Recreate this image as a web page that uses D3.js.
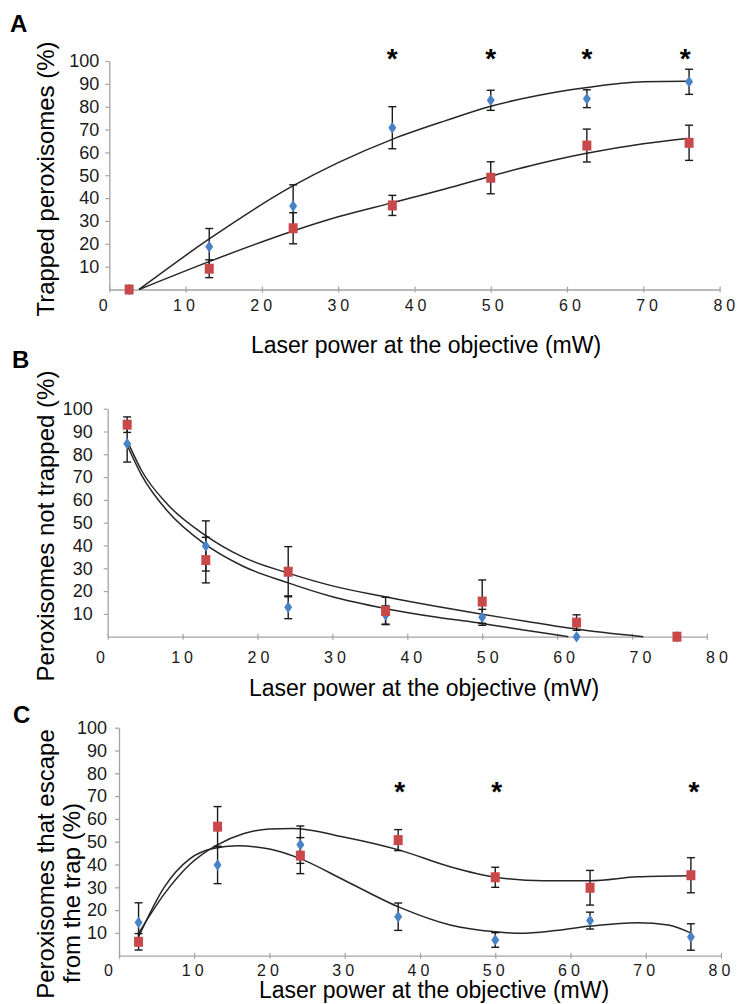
<!DOCTYPE html>
<html>
<head>
<meta charset="utf-8">
<script src="https://cdn.jsdelivr.net/npm/d3@7/dist/d3.min.js"></script>
<style>
  body { margin: 0; background: #fff; }
  svg { display: block; font-family: "Liberation Sans", Arial, sans-serif; }
</style>
</head>
<body>
<script>
// Laser power levels (mW), shared by the three panels
var power = [2.6, 13.1, 24.1, 37.1, 50, 62.6, 76];

// Tick values
var xTicks = [0, 10, 20, 30, 40, 50, 60, 70, 80];
var yTicks = [10, 20, 30, 40, 50, 60, 70, 80, 90, 100];

// Panel A: trapped peroxisomes (%)
var trappedBlue = [0, 18.7, 36.5, 70.8, 82.8, 83.5, 90.9];
var trappedBlueErr = [0, 8, 9.3, 9.2, 4.4, 3.9, 5.5];
var trappedRed = [0, 9.1, 26.8, 36.8, 48.9, 63, 64.2];
var trappedRedErr = [0, 3.9, 6.8, 4.4, 7, 7.2, 7.7];
var trappedStars = [37.1, 50, 62.6, 75.5];
// trend lines [power, %]
var trappedBlueTrend = [[3.9, 0], [13, 21.9], [24, 45.2], [30, 55.5], [37, 65.6], [44, 73.8], [50, 80.2], [56, 84.8], [62.4, 88.3], [70, 90.9], [75.7, 91.1]];
var trappedRedTrend = [[3.9, 0], [13, 12.1], [24, 25.5], [30, 31.8], [37, 37.9], [44, 44], [50, 49.6], [56, 54.8], [62.4, 59.5], [70, 63.8], [75.7, 66.1]];

// Panel B: peroxisomes not trapped (%)
var notTrappedBlue = [84.6, 39.8, 12.9, 9.5, 8.5, 0, 0];
var notTrappedBlueErr = [8, 11, 5, 4, 3.5, 0, 0];
var notTrappedRed = [93, 33.6, 28.5, 11.3, 15.4, 6.2, 0];
var notTrappedRedErr = [3.4, 10, 11, 6, 9.5, 3.4, 0];
var notTrappedBlueTrend = [[2.6, 84], [4.5, 71], [8, 55], [12.8, 41], [18, 31], [24, 23.7], [30, 17.5], [37, 12.4], [44, 8.5], [50, 5.8], [56, 2.7], [61.5, 0]];
var notTrappedRedTrend = [[2.6, 86], [4.5, 73], [8, 58], [12.8, 45], [18, 35], [24, 28], [30, 22.3], [37, 17.5], [44, 13.2], [50, 9.8], [56, 6.7], [61.3, 3.9], [66, 1.9], [71.5, 0]];

// Panel C: peroxisomes that escape from the trap (%)
var escapeBlue = [14.6, 39.8, 48.7, 17.1, 6.9, 15.4, 8.2];
var escapeBlueErr = [8.6, 8.2, 8.2, 6, 3.2, 3.7, 5.8];
var escapeRed = [6.1, 56.6, 43.9, 50.7, 34.4, 29.8, 35.3];
var escapeRedErr = [3.6, 8.8, 7.9, 4.6, 4.4, 7.6, 7.7];
var escapeStars = [37.3, 50.2, 76.4];
var escapeBlueTrend = [[2.6, 8.3], [6, 30], [9.4, 42.5], [12.5, 47], [15.7, 48.2], [20, 46.8], [24, 42.7], [30, 33], [37.3, 21.2], [44, 13.5], [50, 10.5], [53.3, 9.8], [58, 11], [62.7, 13], [68.9, 14.5], [73, 13.5], [76.1, 9.8]];
var escapeRedTrend = [[2.6, 9.8], [6, 27], [9.4, 40], [13, 48.5], [16.5, 53.5], [20, 55.6], [23, 55.8], [30, 52], [37.3, 46.3], [44, 39], [50, 34.4], [56.4, 32.9], [62.7, 32.9], [68.9, 34.6], [76.1, 35.1]];

// Colours
var blue = "#4a82c6";
var red = "#c9494b";
var axisGrey = "#a3a3a3";

var svg = d3.select("body").append("svg")
    .attr("width", 741)
    .attr("height", 1004);

svg.append("rect")
    .attr("width", 741)
    .attr("height", 1004)
    .attr("fill", "#fff");

// Panel layouts (pixel positions)
var panels = [
  {
    letter: "A", letterX: 10, letterY: 32,
    xRange: [109.3, 719.6], yRange: [289.5, 61],
    yPad: 6, xLabelY: 21.5, zeroShift: -6.5, shiftA: -3, shiftB: 0.09,
    blue: trappedBlue, blueErr: trappedBlueErr, red: trappedRed, redErr: trappedRedErr,
    blueTrend: trappedBlueTrend, redTrend: trappedRedTrend,
    stars: trappedStars, starY: 103.5,
    yTitle: ["Trapped peroxisomes (%)"], yTitleX: [54], yTitleY: [179],
    xTitleX: 426, xTitleY: 353
  },
  {
    letter: "B", letterX: 12, letterY: 368,
    xRange: [107.7, 706.9], yRange: [636.7, 408.7],
    yPad: 11, xLabelY: 26, zeroShift: -7.7, shiftA: -2.5, shiftB: 0.15,
    blue: notTrappedBlue, blueErr: notTrappedBlueErr, red: notTrappedRed, redErr: notTrappedRedErr,
    blueTrend: notTrappedBlueTrend, redTrend: notTrappedRedTrend,
    stars: [], starY: 0,
    yTitle: ["Peroxisomes not trapped (%)"], yTitleX: [54], yTitleY: [526],
    xTitleX: 424, xTitleY: 696
  },
  {
    letter: "C", letterX: 13, letterY: 723,
    xRange: [119, 721], yRange: [955.7, 727.7],
    yPad: 8, xLabelY: 20, zeroShift: -11, shiftA: -2, shiftB: 0,
    blue: escapeBlue, blueErr: escapeBlueErr, red: escapeRed, redErr: escapeRedErr,
    blueTrend: escapeBlueTrend, redTrend: escapeRedTrend,
    stars: escapeStars, starY: 74.4,
    yTitle: ["Peroxisomes that escape", "from the trap (%)"], yTitleX: [54, 80], yTitleY: [864, 893],
    xTitleX: 434, xTitleY: 998
  }
];

panels.forEach(drawPanel);

function drawPanel(p) {

  var x = d3.scaleLinear().domain([0, 80]).range(p.xRange);
  var y = d3.scaleLinear().domain([0, 100]).range(p.yRange);
  var g = svg.append("g");

  // Panel letter
  g.append("text")
      .attr("x", p.letterX)
      .attr("y", p.letterY)
      .style("font-size", "24px")
      .style("font-weight", "bold")
      .text(p.letter);

  // Y axis
  var yAxis = g.append("g")
      .attr("transform", "translate(" + p.xRange[0] + ",0)")
      .call(d3.axisLeft(y).tickValues(yTicks).tickSize(4).tickSizeOuter(0).tickPadding(p.yPad));
  yAxis.select(".domain").attr("stroke", axisGrey).attr("stroke-width", 1.3);
  yAxis.selectAll(".tick line").attr("stroke", axisGrey).attr("stroke-width", 1.2);
  yAxis.selectAll(".tick text")
      .attr("fill", "#1a1a1a")
      .style("font-size", "18px")
      .style("font-family", "Liberation Sans, Arial, sans-serif");

  // X axis
  var xAxis = g.append("g")
      .attr("transform", "translate(0," + p.yRange[0] + ")")
      .call(d3.axisBottom(x).tickValues(xTicks).tickSize(3).tickSizeOuter(0));
  xAxis.select(".domain").attr("stroke", axisGrey).attr("stroke-width", 1.3);
  xAxis.selectAll(".tick line").attr("stroke", axisGrey).attr("stroke-width", 1.2).attr("y1", -3);
  xAxis.selectAll(".tick text")
      .attr("fill", "#1a1a1a")
      .attr("y", p.xLabelY)
      .attr("dy", 0)
      .attr("dx", function(d) {
        return 2 + (d === 0 ? p.zeroShift : p.shiftA + p.shiftB * d);
      })
      .style("font-size", "16px")
      .style("letter-spacing", "4px")
      .style("font-family", "Liberation Sans, Arial, sans-serif");

  // Trend lines
  var line = d3.line()
      .x(function(d) { return x(d[0]); })
      .y(function(d) { return y(d[1]); })
      .curve(d3.curveMonotoneX);

  [p.blueTrend, p.redTrend].forEach(function(t) {
    g.append("path")
        .attr("d", line(t))
        .attr("fill", "none")
        .attr("stroke", "#262626")
        .attr("stroke-width", 1.5);
  });

  // Error bars
  var series = [
    { values: p.blue, err: p.blueErr },
    { values: p.red, err: p.redErr }
  ];
  series.forEach(function(s) {
    var bars = g.append("g")
        .selectAll("g")
        .data(s.values.map(function(v, i) { return { x: power[i], v: v, e: s.err[i] }; })
          .filter(function(d) { return d.e > 0; }))
        .enter().append("g")
        .attr("stroke", "#1a1a1a")
        .attr("stroke-width", 1.4);
    bars.append("line")
        .attr("x1", function(d) { return x(d.x); })
        .attr("x2", function(d) { return x(d.x); })
        .attr("y1", function(d) { return y(d.v + d.e); })
        .attr("y2", function(d) { return y(Math.max(0, d.v - d.e)); });
    bars.append("line")
        .attr("x1", function(d) { return x(d.x) - 4; })
        .attr("x2", function(d) { return x(d.x) + 4; })
        .attr("y1", function(d) { return y(d.v + d.e); })
        .attr("y2", function(d) { return y(d.v + d.e); });
    bars.append("line")
        .attr("x1", function(d) { return x(d.x) - 4; })
        .attr("x2", function(d) { return x(d.x) + 4; })
        .attr("y1", function(d) { return y(Math.max(0, d.v - d.e)); })
        .attr("y2", function(d) { return y(Math.max(0, d.v - d.e)); });
  });

  // Blue diamonds
  g.append("g").selectAll("path")
      .data(p.blue)
      .enter().append("path")
      .attr("d", "M0,-5.8L4,0L0,5.8L-4,0Z")
      .attr("transform", function(d, i) { return "translate(" + x(power[i]) + "," + y(d) + ")"; })
      .attr("fill", blue);

  // Red squares
  g.append("g").selectAll("rect")
      .data(p.red)
      .enter().append("rect")
      .attr("x", function(d, i) { return x(power[i]) - 4.5; })
      .attr("y", function(d) { return y(d) - 5; })
      .attr("width", 9)
      .attr("height", 10)
      .attr("fill", red);

  // Significance stars
  g.append("g").selectAll("text")
      .data(p.stars)
      .enter().append("text")
      .attr("x", function(d) { return x(d); })
      .attr("y", y(p.starY) + 15)
      .attr("text-anchor", "middle")
      .style("font-size", "28px")
      .style("font-weight", "bold")
      .text("*");

  // Y title
  p.yTitle.forEach(function(t, i) {
    g.append("text")
        .attr("transform", "translate(" + p.yTitleX[i] + "," + p.yTitleY[i] + ") rotate(-90)")
        .attr("text-anchor", "middle")
        .style("font-size", "24px")
        .text(t);
  });

  // X title
  g.append("text")
      .attr("x", p.xTitleX)
      .attr("y", p.xTitleY)
      .attr("text-anchor", "middle")
      .style("font-size", "23px")
      .text("Laser power at the objective (mW)");
}
</script>
</body>
</html>
